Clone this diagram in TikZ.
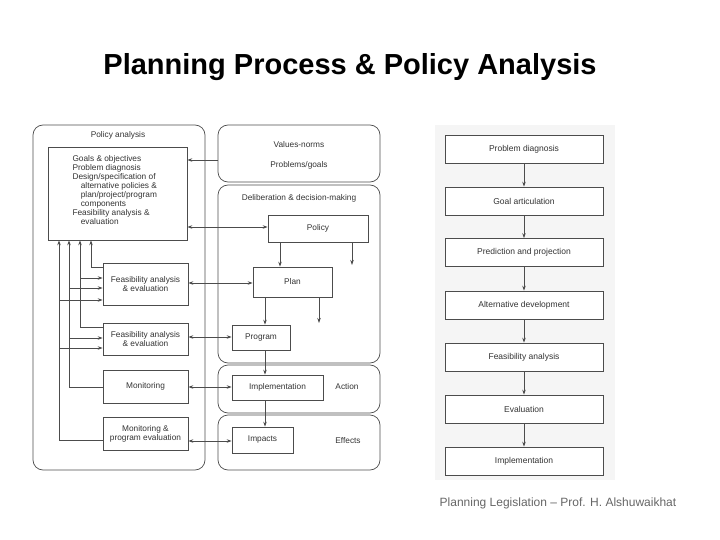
\documentclass[tikz,border=0pt]{standalone}
\usepackage{fontspec}
\setmainfont{Liberation Sans}
\usetikzlibrary{arrows.meta}
\begin{document}
\begin{tikzpicture}[x=1pt,y=-1pt,
  ln/.style={draw=black!70,line width=0.7pt},
  arr/.style={ln,-{Stealth[length=5pt,width=3.5pt]}},
  barr/.style={ln,{Stealth[length=5pt,width=3.5pt]}-{Stealth[length=5pt,width=3.5pt]}},
  rbox/.style={ln,rounded corners=10pt},
  bx/.style={ln,fill=white,inner sep=0pt},
  t/.style={font=\fontsize{8.3}{9}\selectfont,text=black!80,align=center},
  fbox/.style={draw=black!70,line width=0.7pt,fill=white,minimum width=158pt,minimum height=28pt,inner sep=0pt,font=\fontsize{8.5}{9}\selectfont,text=black!80}]
\useasboundingbox (0,0) rectangle (720,540);
\node[font=\bfseries\fontsize{29}{32}\selectfont] (title) at (350,67) {Planning Process \& Policy Analysis};
\node[font=\fontsize{12}{14}\selectfont,text=black!60] (foot) at (558,503) {Planning Legislation – Prof. H. Alshuwaikhat};
% left diagram
\draw[rbox] (33,125) rectangle (205,470);
\node[t] (pa) at (118,135) {Policy analysis};
\draw[rbox] (218,125) rectangle (380,182);
\node[t] (vn) at (299,145) {Values-norms};
\node[t] (pg) at (299,165) {Problems/goals};
\draw[rbox] (218,185) rectangle (380,363);
\node[t] (dd) at (299,198) {Deliberation \& decision-making};
\draw[rbox] (218,365) rectangle (380,413);
\draw[rbox] (218,415) rectangle (380,470);
\node[t] (act) at (347,387) {Action};
\node[t] (eff) at (348,441) {Effects};
\coordinate (vnE) at (218,160);
\node[bx,minimum width=139pt,minimum height=93pt] (goals) at (117.5,193.5) {};
\node[t,align=left,anchor=north west] (gt) at (69,152) {Goals \& objectives\\Problem diagnosis\\Design/specification of\\\quad alternative policies \&\\\quad plan/project/program\\\quad components\\Feasibility analysis \&\\\quad evaluation};
\node[bx,t,minimum width=100pt,minimum height=27pt] (policy) at (318,228.5) {Policy};
\node[bx,t,minimum width=79pt,minimum height=30pt] (plan) at (292.5,282) {Plan};
\node[bx,t,minimum width=58pt,minimum height=25pt] (prog) at (261,337.5) {Program};
\node[bx,t,minimum width=91pt,minimum height=25pt] (impl) at (277.5,387.5) {Implementation};
\node[bx,t,minimum width=61pt,minimum height=26pt] (imp) at (262.5,440) {Impacts};
\node[bx,t,minimum width=85pt,minimum height=42pt] (f1) at (145.5,284) {Feasibility analysis\\\& evaluation};
\node[bx,t,minimum width=85pt,minimum height=32pt] (f2) at (145.5,339) {Feasibility analysis\\\& evaluation};
\node[bx,t,minimum width=85pt,minimum height=33pt] (mon) at (145.5,386.5) {Monitoring};
\node[bx,t,minimum width=85pt,minimum height=33pt] (mpe) at (145.5,433.5) {Monitoring \&\\program evaluation};
\draw[arr] (vnE) -- (goals.east |- vnE);
\draw[barr] (goals.east |- 0,227) -- (policy.west |- 0,227);
\draw[barr] (f1.east |- 0,283) -- (plan.west |- 0,283);
\draw[barr] (f2.east |- 0,337) -- (prog.west |- 0,337);
\draw[barr] (mon.east |- 0,387) -- (impl.west |- 0,387);
\draw[barr] (mpe.east |- 0,441) -- (imp.west |- 0,441);
\coordinate (pfree) at (352,265);
\coordinate (plfree) at (319,323);
\draw[arr] (policy.south -| 280,0) -- (plan.north -| 280,0);
\draw[arr] (policy.south -| pfree) -- (pfree);
\draw[arr] (plan.south -| 265,0) -- (prog.north -| 265,0);
\draw[arr] (plan.south -| plfree) -- (plfree);
\draw[arr] (prog.south -| 265,0) -- (impl.north -| 265,0);
\draw[arr] (impl.south -| 265,0) -- (imp.north -| 265,0);
% feedback lines
\draw[arr] (f1.west |- 0,267) -| (goals.south -| 91,0);
\draw[arr] (f2.west |- 0,327) -| (goals.south -| 80,0);
\draw[arr] (mon.west |- 0,387) -| (goals.south -| 69,0);
\draw[arr] (mpe.west |- 0,440) -| (goals.south -| 59,0);
\draw[arr] (80,278) -- (f1.west |- 0,278);
\draw[arr] (69,288) -- (f1.west |- 0,288);
\draw[arr] (59,300) -- (f1.west |- 0,300);
\draw[arr] (69,338) -- (f2.west |- 0,338);
\draw[arr] (59,348) -- (f2.west |- 0,348);
% right flowchart
\fill[black!4] (435,125) rectangle (615,480);
\node[fbox] (s1) at (524,149) {Problem diagnosis};
\node[fbox] (s2) at (524,201) {Goal articulation};
\node[fbox] (s3) at (524,252.5) {Prediction and projection};
\node[fbox] (s4) at (524,305) {Alternative development};
\node[fbox] (s5) at (524,357) {Feasibility analysis};
\node[fbox] (s6) at (524,409) {Evaluation};
\node[fbox] (s7) at (524,461) {Implementation};
\foreach \a/\b in {s1/s2,s2/s3,s3/s4,s4/s5,s5/s6,s6/s7} \draw[arr] (\a) -- (\b);
\end{tikzpicture}
\end{document}
